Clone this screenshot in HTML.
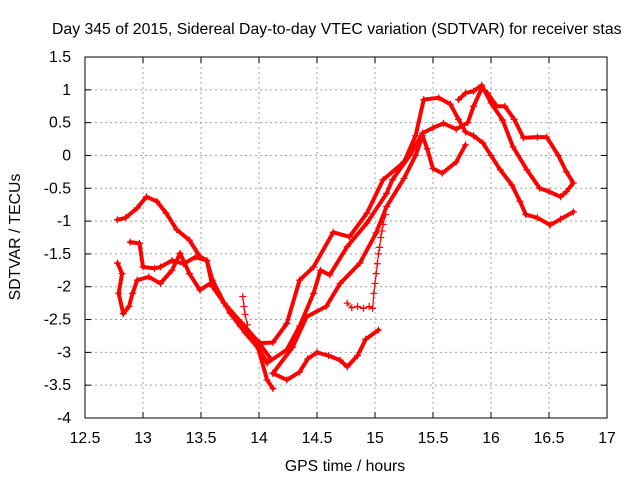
<!DOCTYPE html>
<html><head><meta charset="utf-8"><style>
body{margin:0;background:#fff}
svg{display:block;font-family:"Liberation Sans",sans-serif}
</style></head><body>
<svg id="c" width="640" height="480" xmlns="http://www.w3.org/2000/svg">
<text x="52" y="34" font-size="15.8" fill="#000">Day 345 of 2015, Sidereal Day-to-day VTEC variation (SDTVAR) for receiver stas</text>
<text transform="translate(20,237) rotate(-90)" text-anchor="middle" font-size="15.8">SDTVAR / TECUs</text>
<text x="345" y="471" text-anchor="middle" font-size="15.8">GPS time / hours</text>
<g id="grid"></g><g id="series"></g><g id="axes"></g>
</svg>
<script>
const xTicks=[12.5,13,13.5,14,14.5,15,15.5,16,16.5,17];
const yTicks=[1.5,1,0.5,0,-0.5,-1,-1.5,-2,-2.5,-3,-3.5,-4];
// tracks: [hour, TECU]
const trackLeftHigh=[[12.78,-0.98],[12.85,-0.95],[12.95,-0.8],[13.03,-0.63],[13.12,-0.7],[13.2,-0.88],[13.29,-1.13],[13.4,-1.29],[13.49,-1.54],[13.55,-1.6],[13.6,-2.0],[13.72,-2.3],[13.84,-2.6],[13.98,-2.86],[14.07,-3.42],[14.12,-3.55]];
const trackLeftMid=[[12.78,-1.64],[12.82,-1.8],[12.79,-2.1],[12.83,-2.41],[12.88,-2.3],[12.91,-2.1],[12.95,-1.9],[13.05,-1.85],[13.15,-1.95],[13.25,-1.75],[13.32,-1.49],[13.4,-1.8],[13.49,-2.05],[13.58,-1.95],[13.65,-2.1],[13.75,-2.4],[13.88,-2.7],[14.0,-2.95],[14.07,-3.16]];
const trackLeftLow=[[12.89,-1.32],[12.97,-1.34],[13.0,-1.7],[13.1,-1.72],[13.15,-1.7],[13.25,-1.6],[13.35,-1.65],[13.45,-1.55],[13.55,-1.6],[13.6,-1.9],[13.7,-2.25],[13.85,-2.55],[14.0,-2.85],[14.1,-3.1]];
const trackLow=[[14.12,-3.32],[14.24,-3.42],[14.35,-3.3],[14.42,-3.1],[14.5,-3.0],[14.6,-3.05],[14.7,-3.12],[14.76,-3.22],[14.85,-3.05],[14.92,-2.8],[15.03,-2.66]];
const trackR1=[[14.01,-2.86],[14.12,-2.85],[14.24,-2.56],[14.35,-1.9],[14.47,-1.7],[14.64,-1.17],[14.78,-1.24],[14.93,-0.88],[15.07,-0.37],[15.25,-0.1],[15.35,0.3],[15.42,0.85],[15.55,0.88],[15.65,0.78],[15.72,0.55],[15.78,0.36],[15.85,0.3],[15.93,0.19],[16.0,0.0],[16.08,-0.22],[16.18,-0.45],[16.25,-0.7],[16.3,-0.9],[16.4,-0.95],[16.51,-1.06],[16.6,-0.97],[16.71,-0.86]];
const trackR2=[[14.07,-3.16],[14.24,-2.96],[14.35,-2.6],[14.47,-2.1],[14.53,-1.75],[14.61,-1.82],[14.76,-1.39],[14.93,-1.03],[15.1,-0.58],[15.15,-0.37],[15.3,0.0],[15.41,0.34],[15.5,0.42],[15.59,0.49],[15.7,0.4],[15.8,0.5],[15.85,0.75],[15.92,1.02],[15.97,0.95],[16.05,0.75],[16.12,0.75],[16.2,0.55],[16.28,0.27],[16.4,0.28],[16.48,0.28],[16.58,0.0],[16.65,-0.25],[16.71,-0.42],[16.65,-0.55],[16.6,-0.63],[16.5,-0.55],[16.42,-0.5],[16.31,-0.22],[16.19,0.13],[16.1,0.54]];
const trackR3=[[14.12,-3.32],[14.29,-2.92],[14.41,-2.46],[14.58,-2.3],[14.7,-1.95],[14.87,-1.64],[15.01,-1.18],[15.1,-0.78],[15.25,-0.35],[15.35,0.0],[15.41,0.3],[15.45,0.1],[15.5,-0.2],[15.58,-0.27],[15.7,-0.1],[15.78,0.16]];
const trackPeak=[[15.72,0.85],[15.78,0.95],[15.85,0.98],[15.92,1.07],[16.0,0.8],[16.1,0.54]];
const dotted1=[[14.76,-2.25],[14.8,-2.32],[14.85,-2.3],[14.9,-2.33],[14.95,-2.3],[14.98,-2.33],[14.99,-2.1],[15.0,-1.95],[15.01,-1.8],[15.02,-1.65],[15.03,-1.5],[15.04,-1.4],[15.05,-1.25],[15.06,-1.15],[15.07,-1.05],[15.09,-0.9]];
const dotted2=[[13.86,-2.15],[13.87,-2.3],[13.88,-2.42],[13.9,-2.58]];
const solidTracks=[trackLeftHigh,trackLeftMid,trackLeftLow,trackLow,trackR1,trackR2,trackR3,trackPeak];
const dottedTracks=[dotted1,dotted2];

const X0=85,X1=607,Y0=57,Y1=418,xmin=12.5,xmax=17,ymin=-4,ymax=1.5;
const sx=h=>X0+(h-xmin)/(xmax-xmin)*(X1-X0);
const sy=v=>Y1-(v-ymin)/(ymax-ymin)*(Y1-Y0);
const NS="http://www.w3.org/2000/svg";
function mk(t,a,p){const e=document.createElementNS(NS,t);for(const k in a)e.setAttribute(k,a[k]);p.appendChild(e);return e;}
const grid=document.getElementById('grid'),axes=document.getElementById('axes'),ser=document.getElementById('series');
xTicks.forEach(t=>{const x=sx(t);
 if(t>xmin&&t<xmax){const g=mk('line',{x1:x,x2:x,y1:Y0,y2:Y1,stroke:'#a0a0a0','stroke-dasharray':'2,3'},grid);
 
 }
 mk('line',{x1:x,x2:x,y1:Y1,y2:Y1-6,stroke:'#000'},axes);mk('line',{x1:x,x2:x,y1:Y0,y2:Y0+6,stroke:'#000'},axes);
 const l=mk('text',{x:x,y:Y1+25,'text-anchor':'middle','font-size':'15.8'},axes);l.textContent=t;
 
 });
yTicks.forEach(t=>{const y=sy(t);
 if(t>ymin&&t<ymax){const g=mk('line',{x1:X0,x2:X1,y1:y,y2:y,stroke:'#a0a0a0','stroke-dasharray':'2,3'},grid);
 
 }
 mk('line',{x1:X0,x2:X0+6,y1:y,y2:y,stroke:'#000'},axes);mk('line',{x1:X1,x2:X1-6,y1:y,y2:y,stroke:'#000'},axes);
 const l=mk('text',{x:X0-14,y:y+5,'text-anchor':'end','font-size':'15.8'},axes);l.textContent=t;
 
 });
const fr=mk('rect',{x:X0,y:Y0,width:X1-X0,height:Y1-Y0,fill:'none',stroke:'#000'},axes);


function marker(h,v){const x=sx(h),y=sy(v);
 const p=mk('path',{d:`M${x-3.5},${y}h7M${x},${y-3.5}v7`,stroke:'#f00','stroke-width':1.2,fill:'none'},ser);
 
 }
solidTracks.forEach(tr=>{
 const pl=mk('polyline',{points:tr.map(p=>sx(p[0])+','+sy(p[1])).join(' '),fill:'none',stroke:'#f00','stroke-width':4,'stroke-linejoin':'round','stroke-linecap':'round'},ser);
 
 
 tr.forEach(p=>marker(p[0],p[1]));});
dottedTracks.forEach(tr=>{tr.forEach(p=>marker(p[0],p[1]));
 const pl=mk('polyline',{points:tr.map(p=>sx(p[0])+','+sy(p[1])).join(' '),fill:'none',stroke:'#f00','stroke-width':1.2},ser);
 
 });
</script>
</body></html>
